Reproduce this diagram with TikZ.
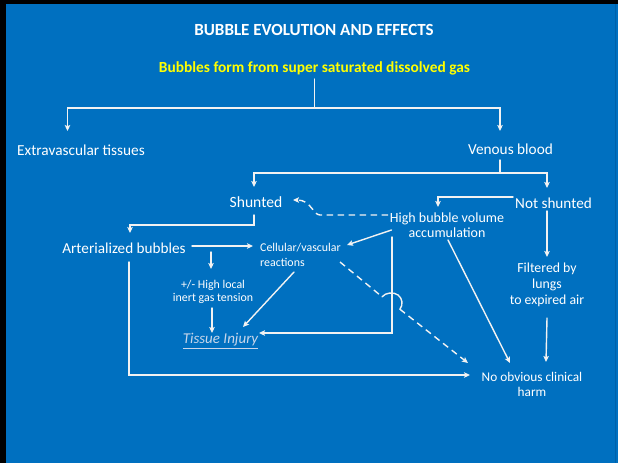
\documentclass[tikz,border=0pt]{standalone}
\usepackage{fontspec}
\setmainfont{Carlito}
\usetikzlibrary{arrows.meta,calc}

\definecolor{slideblue}{RGB}{0,112,192}
\definecolor{edgeblue}{RGB}{0,98,170}
\definecolor{linewhite}{RGB}{242,242,242}
\definecolor{titleyellow}{RGB}{255,255,0}
\definecolor{injury}{RGB}{200,214,234}

\tikzset{
  lbl/.style={text=white, inner sep=0pt, align=center},
  flow/.style={draw=linewhite, line width=1.4pt, line cap=round},
  arr/.style={flow, -{Stealth[length=6pt,width=5.5pt,inset=1.2pt]}},
  dsh/.style={draw=linewhite, line width=1.4pt, dash pattern=on 6.5pt off 4.5pt},
  dsharr/.style={dsh, -{Stealth[length=6pt,width=5.5pt,inset=1.2pt]}},
}

\begin{document}
\begin{tikzpicture}[x=1pt, y=-1pt]
  % slide and frame
  \useasboundingbox (0,0) rectangle (618,463);
  \fill[black] (0,0) rectangle (618,463);
  \fill[slideblue] (6,4) rectangle (618,463);
  \draw[edgeblue, line width=0.8pt] (615,4) -- (615,463);

  % headings
  \node[lbl, font=\fontsize{17}{19}\selectfont\bfseries] (title) at (314,30) {BUBBLE EVOLUTION AND EFFECTS};
  \node[lbl, text=titleyellow, font=\fontsize{15.4}{17}\selectfont\bfseries] (src) at (314.5,68) {Bubbles form from super saturated dissolved gas};

  % first split
  \node[lbl, anchor=west, font=\fontsize{15.3}{17}\selectfont] (extra) at (17,150) {Extravascular tissues};
  \node[lbl, font=\fontsize{15.3}{17}\selectfont] (venous) at (510.5,149) {Venous blood};

  % venous branches
  \node[lbl, font=\fontsize{15.6}{17}\selectfont] (shunted) at (256,202) {Shunted};
  \node[lbl, font=\fontsize{15.2}{17}\selectfont] (notsh) at (553.5,203) {Not shunted};
  \node[lbl, font=\fontsize{14}{15}\selectfont] (hbv) at (447,225.5) {High bubble volume\\accumulation};
  \node[lbl, font=\fontsize{13.8}{16}\selectfont] (filtered) at (547,285) {Filtered by\\lungs\\to expired air};

  % arterial side
  \node[lbl, font=\fontsize{15.2}{17}\selectfont] (art) at (124,248) {Arterialized bubbles};
  \node[lbl, anchor=west, align=left, font=\fontsize{11.9}{15}\selectfont] (cell) at (260,254.5) {Cellular/vascular\\reactions};
  \node[lbl, font=\fontsize{11.9}{13}\selectfont] (local) at (213,291.5) {+/- High local\\inert gas tension};
  \node[lbl, text=injury, font=\fontsize{15}{17}\selectfont\itshape] (tissue) at (220.5,341) {\underline{Tissue Injury}};
  \node[lbl, font=\fontsize{13.3}{15}\selectfont] (noharm) at (532,384.5) {No obvious clinical\\harm};

  % junction and end points
  \coordinate (srcfoot) at (314.5,79);
  \coordinate (split) at (314.5,108);
  \coordinate (extratop) at (67.5,131);
  \coordinate (venoustop) at (500,131);
  \coordinate (venousfoot) at (500,160);
  \coordinate (vjoin) at (500,173);
  \coordinate (shtop) at (254,187);
  \coordinate (nstop) at (547,188);
  \coordinate (nsleft) at (513,197);
  \coordinate (hbvtop) at (438,207);
  \coordinate (nsfoot) at (547,211);
  \coordinate (filtop) at (547,257);
  \coordinate (filfoot) at (547,318);
  \coordinate (nhfilter) at (546,362);
  \coordinate (hbvleft) at (388,215);
  \coordinate (dbend) at (320,215);
  \coordinate (shright) at (293,200);
  \coordinate (shfoot) at (254,215);
  \coordinate (shbend) at (254,225);
  \coordinate (arttop) at (130,233);
  \coordinate (artright) at (192,246);
  \coordinate (cellleft) at (253,246);
  \coordinate (artsub) at (211,252);
  \coordinate (localtop) at (211,269);
  \coordinate (localfoot) at (212,308);
  \coordinate (tistop) at (212,333);
  \coordinate (cellfoot) at (294,272);
  \coordinate (tisright) at (243,327);
  \coordinate (hbvfoot) at (391.5,230);
  \coordinate (cellright) at (347,245);
  \coordinate (hbvdrop) at (392,237);
  \coordinate (dropcorner) at (392,333);
  \coordinate (tisend) at (259,333);
  \coordinate (celldash) at (340,262);
  \coordinate (hopin) at (382.1,296.8);
  \coordinate (hopout) at (399.9,309.2);
  \coordinate (nhdash) at (468,363);
  \coordinate (hbvlow) at (448,240);
  \coordinate (nhhbv) at (510,363);
  \coordinate (artfoot) at (129,262);
  \coordinate (artcorner) at (129,375);
  \coordinate (nhleft) at (470,375);

  % top split
  \draw[flow] (srcfoot) -- (split);
  \draw[arr] (split) -| (extratop);
  \draw[arr] (split) -| (venoustop);

  % venous blood into shunted / not shunted
  \draw[flow] (venousfoot) -- (vjoin);
  \draw[arr] (vjoin) -| (shtop);
  \draw[arr] (vjoin) -| (nstop);

  % not shunted
  \draw[arr] (nsleft) -| (hbvtop);
  \draw[arr] (nsfoot) -- (filtop);
  \draw[arr] (filfoot) -- (nhfilter);

  % high bubble volume back to shunted
  \draw[dsharr] (hbvleft) -- (dbend) .. controls (313,215) and (311,200) .. (shright);

  % shunted to arterialized bubbles
  \draw[arr] (shfoot) -- (shbend) -| (arttop);
  \draw[arr] (artright) -- (cellleft);
  \draw[arr] (artsub) -- (localtop);
  \draw[arr] (localfoot) -- (tistop);
  \draw[arr] (cellfoot) -- (tisright);

  % high bubble volume effects
  \draw[arr] (hbvfoot) -- (cellright);
  \draw[arr] (hbvdrop) -- (dropcorner) -- (tisend);
  \draw[arr] (hbvlow) -- (nhhbv);

  % dashed route with a hop over the vertical line
  \draw[dsh] (celldash) -- (hopin);
  \draw[flow] (hopin) .. controls (385.5,292.4) and (393.9,291.7) .. (398.2,295.1)
                      .. controls (402.5,298.5) and (403.3,304.8) .. (hopout);
  \draw[dsharr] (hopout) -- (nhdash);

  % arterialized bubbles without harm
  \draw[arr] (artfoot) -- (artcorner) -- (nhleft);
\end{tikzpicture}
\end{document}
